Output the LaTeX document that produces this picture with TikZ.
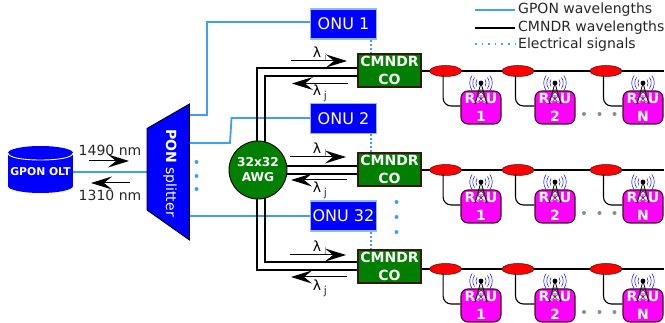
\documentclass[tikz,border=0pt]{standalone}
\usepackage{fontspec}
\setmainfont{DejaVu Sans}
\usetikzlibrary{arrows.meta,calc,shapes.geometric}
\definecolor{gponblue}{HTML}{3F9FF0}
\definecolor{onuedge}{HTML}{8FBBF0}
\definecolor{cogreen}{HTML}{007F00}
\definecolor{darkedge}{HTML}{3A1515}
\definecolor{raupink}{HTML}{FF00FF}
\definecolor{pureblue}{HTML}{0000FF}
\definecolor{purered}{HTML}{FF0000}
\newcommand{\fsz}[2]{\fontsize{#1}{#2}\selectfont}
\tikzset{
  gponline/.style={gponblue,line width=1.8pt},
  blackline/.style={black,line width=1.25pt},
  elecline/.style={gponblue,line width=1.8pt,dash pattern=on 1.8pt off 2.2pt},
  legdots/.style={gponblue,line width=1.6pt,dash pattern=on 1.6pt off 5pt},
  sigarrow/.style={black,line width=1pt,-{Stealth[length=21pt,width=13pt,inset=8pt]}},
  onubox/.style={draw=onuedge,fill=pureblue,line width=1.5pt,minimum width=66pt,minimum height=30pt,inner sep=0pt,text=white,font=\fsz{16}{18}},
  cobox/.style={draw=darkedge,fill=cogreen,line width=1.2pt,minimum width=63pt,minimum height=33pt,inner sep=0pt,text=white,align=center,font=\fsz{14}{18}\bfseries},
  raubox/.style={draw=darkedge,fill=raupink,rounded corners=7pt,line width=1.1pt,minimum width=40pt,minimum height=33pt,inner sep=0pt,text=white,align=center,font=\fsz{14}{18}\bfseries},
  tapnode/.style={draw=darkedge,fill=purered,ellipse,line width=.5pt,minimum width=32pt,minimum height=11pt,inner sep=0pt},
  lam/.style={inner sep=0pt,font=\fsz{14}{16}},
  dotb/.style={circle,fill=gponblue,inner sep=0pt,minimum size=4pt},
  dotg/.style={circle,fill=black!45,inner sep=0pt,minimum size=4pt},
  legtxt/.style={anchor=west,inner sep=0pt,font=\fsz{14}{16},text=black!85},
  wave/.style={pureblue,line width=.5pt},
  antenna/.pic={
    \foreach \r/\h in {5/3.5,8/5.5,11/7.5}{
      \draw[wave] (\r*.8,-\h) .. controls (\r*1.1,-\h/2) and (\r*1.1,\h/2) .. (\r*.8,\h);
      \draw[wave] (-\r*.8,-\h) .. controls (-\r*1.1,-\h/2) and (-\r*1.1,\h/2) .. (-\r*.8,\h);
    }
    \draw[black,line width=.8pt] (0,0) -- (-6,21) (0,0) -- (6,21);
    \draw[black!80,line width=.5pt] (-2,7) -- (2,7) (-3.6,13) -- (3.6,13) (-2,7) -- (3.6,13) (2,7) -- (-3.6,13) (-3.6,13) -- (6,21) (3.6,13) -- (-6,21);
    \fill[black] (0,0) circle (2.4pt);
  }
}
\begin{document}
\begin{tikzpicture}[x=1pt,y=-1pt]
\useasboundingbox (0,0) rectangle (665,323);
% legend
\coordinate (la) at (475,10); \coordinate (lb) at (475,28); \coordinate (lc) at (475,44);
\coordinate (lae) at (515,10); \coordinate (lbe) at (515,28); \coordinate (lce) at (515,44);
\node[legtxt] (lta) at (518,10) {GPON wavelengths};
\node[legtxt] (ltb) at (518,28) {CMNDR wavelengths};
\node[legtxt] (ltc) at (518,45) {Electrical signals};
\draw[gponline] (la) -- (lae);
\draw[blackline] (lb) -- (lbe);
\draw[legdots] (lc) -- (lce);
% OLT
\fill[pureblue] (8,153) rectangle (73,186);
\fill[pureblue] (40.5,186) ellipse[x radius=32.5,y radius=7];
\fill[pureblue] (40.5,153) ellipse[x radius=32.5,y radius=7];
\draw[white,line width=.9pt] (40.5,153) ++(-32.5,0) .. controls (8,157.5) and (22,160) .. (40.5,160) .. controls (59,160) and (73,157.5) .. (73,153);
\node[inner sep=0pt,minimum width=65pt,text=white,font=\fsz{10.8}{12}\bfseries] (olt) at (40.5,172) {GPON OLT};
% splitter
\coordinate (sa) at (189.5,115); \coordinate (sb) at (189.5,143); \coordinate (sc) at (189.5,216);
\coordinate (sd) at (147,172);
\draw[gponline] (olt.east) -- (sd);
\fill[pureblue,draw=black,line width=.9pt] (147,128.5) -- (189.5,104) -- (189.5,240) -- (147,210) -- cycle;
\node[inner sep=0pt,rotate=-90,text=white,font=\fsz{14}{16}] (spl) at (170,173) {\textbf{PON} splitter};
\node[inner sep=0pt,font=\fsz{14}{16},text=black!85] (t1490) at (110,150.5) {1490 nm};
\node[inner sep=0pt,font=\fsz{14}{16},text=black!85] (t1310) at (110,195) {1310 nm};
\coordinate (ua) at (89,161); \coordinate (ub) at (129,161);
\coordinate (da) at (130,183); \coordinate (db) at (91,183);
\draw[sigarrow] (ua) -- (ub);
\draw[sigarrow] (da) -- (db);
\node[dotb] (s1) at (196.5,162) {}; \node[dotb] (s2) at (196.5,176) {}; \node[dotb] (s3) at (196.5,189) {};
% ONUs
\node[onubox] (onua) at (343.5,24) {ONU 1};
\node[onubox] (onub) at (343.5,118.5) {ONU 2};
\node[onubox] (onuc) at (343.5,216) {ONU 32};
\node[dotb] (o1) at (396.5,202) {}; \node[dotb] (o2) at (396.5,217) {}; \node[dotb] (o3) at (396.5,232) {};
\draw[gponline] (sa) -- (207,115) -- (207,22) -- (onua.west |- 0,22);
\draw[gponline] (sb) -- (230,143) -- (231.5,118) -- (onub.west |- 0,118);
\draw[gponline] (sc) -- (onuc.west |- sc);
% AWG and CMNDR
\begin{scope}[blackline]
\node[cobox] (coa) at (389.5,70.5) {CMNDR\\CO};
\node[cobox] (cob) at (389.5,169.5) {CMNDR\\CO};
\node[cobox] (coc) at (389.5,266.5) {CMNDR\\CO};
\draw (coa.west |- 0,68) -- (257,68) -- (257,270) -- (coc.west |- 0,270);
\draw (coa.west |- 0,76) -- (265,76) -- (265,262) -- (coc.west |- 0,262);
\draw (cob.west |- 0,166) -- (258,166);
\draw (cob.west |- 0,174) -- (258,174);
\end{scope}
\node[draw=black,line width=.9pt,fill=cogreen,circle,minimum size=58pt,inner sep=0pt,text=white,align=center,font=\fsz{12.2}{15}\bfseries] (awg) at (258,170) {32x32\\AWG};
\draw[elecline] (onua.south -| 371,0) -- (coa.north -| 371,0);
\draw[elecline] (onub.south -| 371,0) -- (cob.north -| 371,0);
\draw[elecline] (onuc.south -| 371,0) -- (coc.north -| 371,0);
% signal arrows + lambda labels
\foreach \n/\yu/\yd/\lu/\ld/\xs in {a/61/83.5/52/90/291, b/157/180/148/187/290, c/255/277/246/285/290}{
  \coordinate (ar\n1) at (\xs,\yu); \coordinate (ar\n2) at (\xs+56,\yu);
  \coordinate (ar\n3) at (\xs+57,\yd); \coordinate (ar\n4) at (\xs+1,\yd);
  \draw[sigarrow] (ar\n1) -- (ar\n2);
  \draw[sigarrow] (ar\n3) -- (ar\n4);
  \node[lam] (li\n) at (317,\lu) {λ};
  \node[lam,font=\fsz{9}{10},text=gray] (lis\n) at (325.5,\lu+5) {i};
  \node[lam] (lj\n) at (317,\ld) {λ};
  \node[lam,font=\fsz{11}{12},text=black!80] (ljs\n) at (325.5,\ld+6) {j};
}
% RAU rows
\foreach \n/\dy/\coname in {a/0/coa, b/99/cob, c/198/coc}{
  \coordinate (bus\n) at (664,71+\dy);
  \draw[blackline] (\coname.east |- 0,71+\dy) -- (bus\n);
  \foreach \m/\tx/\rx/\lab in {1/445.6/481/1, 2/518/555/2, 3/606/643/N}{
    \node[tapnode] (tap\n\m) at (\tx,71+\dy) {};
    \node[raubox] (rau\n\m) at (\rx,107.5+\dy) {RAU\\\lab};
    \draw[black,line width=1.1pt,rounded corners=8pt] (\tx-2.5,75+\dy) -- (\tx-2.5,106+\dy) -- (rau\n\m.west |- 0,106+\dy);
    \pic at (\rx,83+\dy) {antenna};
  }
  \node[dotg] (g\n1) at (584,114+\dy) {};
  \node[dotg] (g\n2) at (599.5,114+\dy) {};
  \node[dotg] (g\n3) at (614.5,114+\dy) {};
}
\end{tikzpicture}
\end{document}
